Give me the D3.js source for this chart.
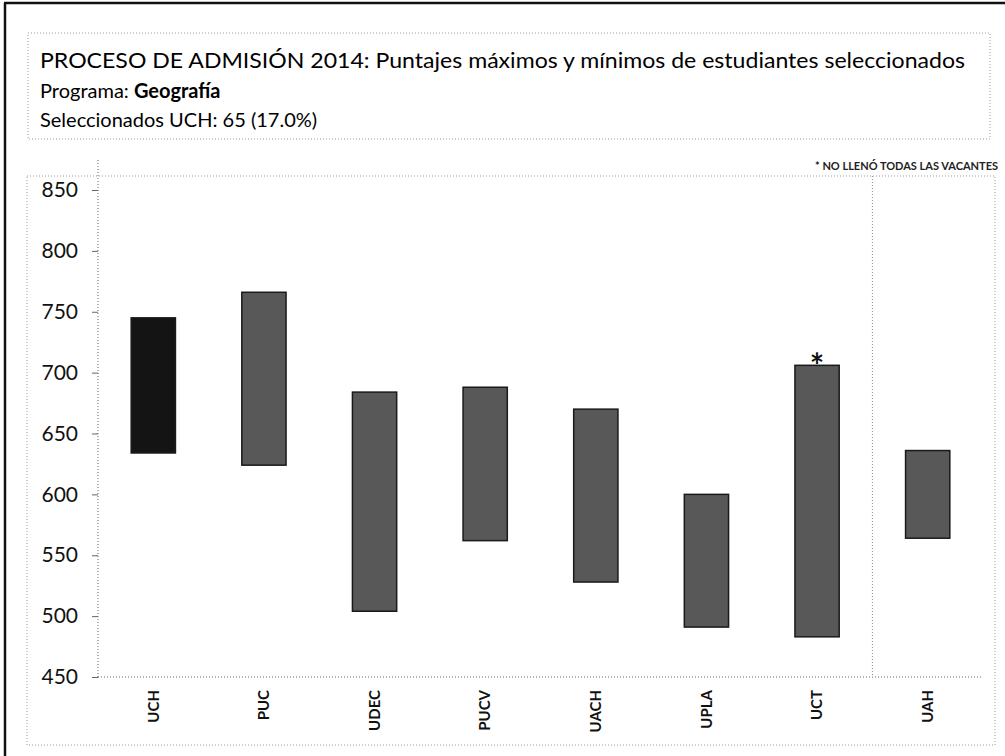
<!DOCTYPE html>
<html>
<head>
<meta charset="utf-8">
<script src="https://d3js.org/d3.v7.min.js"></script>
<style>
  body { margin: 0; background: #fff; }
  text { font-family: Lato, "Open Sans", sans-serif; }
</style>
</head>
<body>
<div id="chart"></div>
<script>
// data
var universidades = ["UCH", "PUC", "UDEC", "PUCV", "UACH", "UPLA", "UCT", "UAH"];
var puntajeMax = [745, 766, 684, 688, 670, 600, 706, 636];
var puntajeMin = [634, 624, 504, 562, 528, 491, 483, 564];
var noLlenaVacantes = ["UCT"];
var yTicks = [450, 500, 550, 600, 650, 700, 750, 800, 850];

var W = 1005, H = 756;

var svg = d3.select("#chart")
  .append("svg")
    .attr("width", W)
    .attr("height", H);

// outer frame (only top and left show in the scan)
svg.append("line").attr("x1", 4).attr("x2", W).attr("y1", 3).attr("y2", 3)
  .attr("stroke", "#111").attr("stroke-width", 2.5);
svg.append("line").attr("x1", 5).attr("x2", 5).attr("y1", 3).attr("y2", H)
  .attr("stroke", "#111").attr("stroke-width", 2.5);

// title box
svg.append("rect")
  .attr("x", 28).attr("y", 33).attr("width", 962).attr("height", 106)
  .attr("fill", "none").attr("stroke", "#999").attr("stroke-width", 1)
  .attr("stroke-dasharray", "1,2");

svg.append("text")
  .attr("x", 40).attr("y", 68)
  .attr("font-size", 22)
  .attr("textLength", 925).attr("lengthAdjust", "spacingAndGlyphs")
  .text("PROCESO DE ADMISIÓN 2014: Puntajes máximos y mínimos de estudiantes seleccionados");

var t2 = svg.append("text").attr("x", 40).attr("y", 98).attr("font-size", 20);
t2.append("tspan").text("Programa: ");
t2.append("tspan").attr("font-weight", "bold").text("Geografía");

svg.append("text")
  .attr("x", 40).attr("y", 127)
  .attr("font-size", 20)
  .text("Seleccionados UCH: 65 (17.0%)");

// footnote
svg.append("text")
  .attr("x", 998).attr("y", 170)
  .attr("text-anchor", "end")
  .attr("font-size", 11).attr("font-weight", "bold")
  .attr("fill", "#222")
  .text("* NO LLENÓ TODAS LAS VACANTES");

// chart area box
svg.append("rect")
  .attr("x", 27).attr("y", 176).attr("width", 968).attr("height", 569)
  .attr("fill", "none").attr("stroke", "#999").attr("stroke-width", 1)
  .attr("stroke-dasharray", "1,2");

// scales
var x = d3.scaleBand()
  .domain(universidades)
  .range([98, 983])
  .paddingInner(0.6)
  .paddingOuter(0.3);

var y = d3.scaleLinear()
  .domain([450, 850])
  .range([677, 190]);

// y axis
var yAxis = svg.append("g")
  .attr("transform", "translate(98,0)")
  .call(d3.axisLeft(y).tickValues(yTicks).tickSize(6).tickPadding(14));
yAxis.select(".domain").attr("stroke", "#666").attr("stroke-dasharray", "1,2")
  .attr("d", "M0," + 160 + "V" + y(450));
yAxis.selectAll(".tick line").attr("stroke", "#666");
yAxis.selectAll(".tick text").attr("font-size", 21).attr("fill", "#111")
  .attr("font-family", "Lato, sans-serif");

// x axis
var xAxis = svg.append("g")
  .attr("transform", "translate(0," + y(450) + ")")
  .call(d3.axisBottom(x).tickSize(0).tickPadding(0));
xAxis.select(".domain").attr("stroke", "#666").attr("stroke-dasharray", "1,2")
  .attr("d", "M98,0H983");
xAxis.selectAll(".tick text")
  .attr("transform", "translate(0,13) rotate(-90)")
  .attr("text-anchor", "end")
  .attr("dy", "0.35em")
  .attr("font-size", 15).attr("font-weight", "bold").attr("fill", "#111")
  .attr("font-family", "Lato, sans-serif");

// separator before UAH
var sepX = x("UAH") - x.step() * x.paddingInner() / 2;
svg.append("line")
  .attr("x1", sepX).attr("x2", sepX)
  .attr("y1", 176).attr("y2", y(450))
  .attr("stroke", "#888").attr("stroke-dasharray", "1,2");

// floating bars min..max
svg.append("g")
  .selectAll("rect")
  .data(universidades)
  .enter()
  .append("rect")
    .attr("x", function (d) { return x(d); })
    .attr("width", x.bandwidth())
    .attr("y", function (d, i) { return y(puntajeMax[i]); })
    .attr("height", function (d, i) { return y(puntajeMin[i]) - y(puntajeMax[i]); })
    .attr("fill", function (d) { return d === "UCH" ? "#141414" : "#585858"; })
    .attr("stroke", "#1a1a1a")
    .attr("stroke-width", 1.5);

// asterisk marks
svg.append("g")
  .selectAll("text")
  .data(noLlenaVacantes)
  .enter()
  .append("text")
    .attr("x", function (d) { return x(d) + x.bandwidth() / 2; })
    .attr("y", function (d) { return y(puntajeMax[universidades.indexOf(d)]) + 13; })
    .attr("text-anchor", "middle")
    .attr("font-size", 34).attr("font-weight", "bold").attr("fill", "#111")
    .text("*");
</script>
</body>
</html>
